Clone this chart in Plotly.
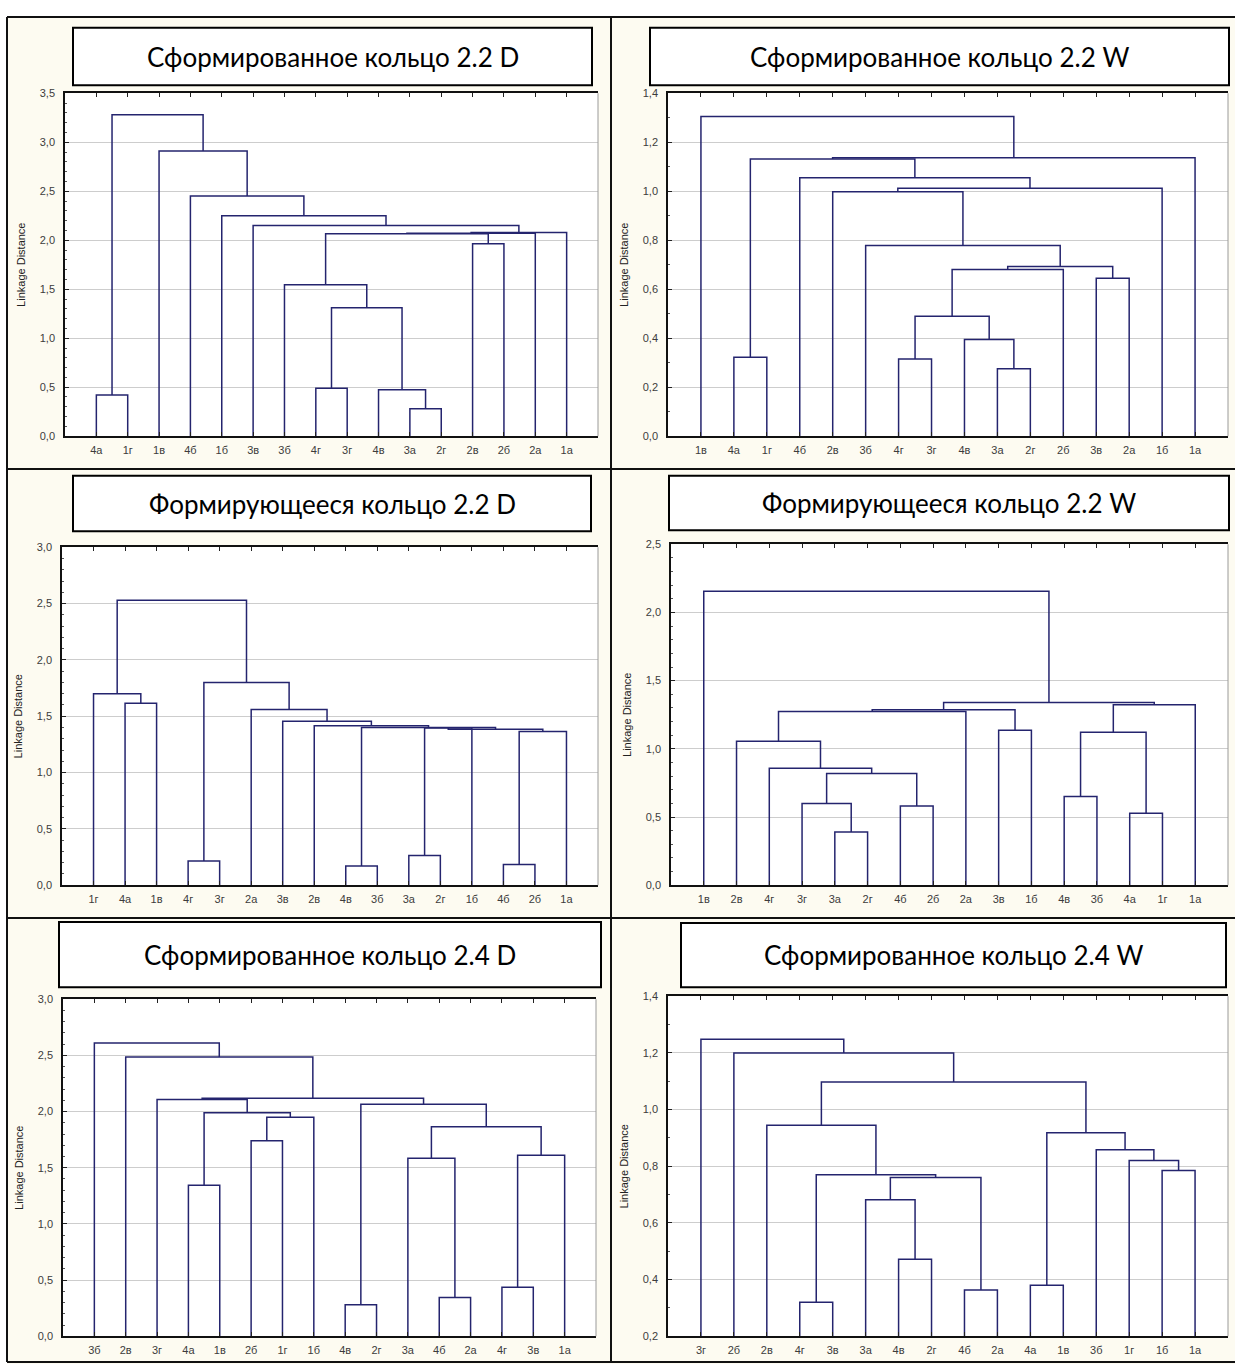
import plotly.graph_objects as go

# ---------------- data ----------------
titles = [
    "Сформированное кольцо 2.2 D",
    "Сформированное кольцо 2.2 W",
    "Формирующееся кольцо 2.2 D",
    "Формирующееся кольцо 2.2 W",
    "Сформированное кольцо 2.4 D",
    "Сформированное кольцо 2.4 W",
]

# leaf order along the x axis of each tree
leaves_1 = ["4а", "1г", "1в", "4б", "1б", "3в", "3б", "4г", "3г", "4в", "3а", "2г", "2в", "2б", "2а", "1а"]
leaves_2 = ["1в", "4а", "1г", "4б", "2в", "3б", "4г", "3г", "4в", "3а", "2г", "2б", "3в", "2а", "1б", "1а"]
leaves_3 = ["1г", "4а", "1в", "4г", "3г", "2а", "3в", "2в", "4в", "3б", "3а", "2г", "1б", "4б", "2б", "1а"]
leaves_4 = ["1в", "2в", "4г", "3г", "3а", "2г", "4б", "2б", "2а", "3в", "1б", "4в", "3б", "4а", "1г", "1а"]
leaves_5 = ["3б", "2в", "3г", "4а", "1в", "2б", "1г", "1б", "4в", "2г", "3а", "4б", "2а", "4г", "3в", "1а"]
leaves_6 = ["3г", "2б", "2в", "4г", "3в", "3а", "4в", "2г", "4б", "2а", "4а", "1в", "3б", "1г", "1б", "1а"]

# merges: (left member, right member, linkage distance);
# a member is a leaf name or the index of an earlier merge
merges_1 = [
    ("4а", "1г", 0.42), ("3а", "2г", 0.28), ("4в", 1, 0.475), ("4г", "3г", 0.49),
    (3, 2, 1.31), ("3б", 4, 1.545), ("2в", "2б", 1.965), (5, 6, 2.065),
    (7, "2а", 2.07), (8, "1а", 2.08), ("3в", 9, 2.15), ("1б", 10, 2.25),
    ("4б", 11, 2.45), ("1в", 12, 2.91), (0, 13, 3.28),
]
merges_2 = [
    ("4а", "1г", 0.322), ("3а", "2г", 0.275), ("4г", "3г", 0.315), ("4в", 1, 0.395),
    (2, 3, 0.49), (4, "2б", 0.68), ("3в", "2а", 0.645), (5, 6, 0.693),
    ("3б", 7, 0.778), ("2в", 8, 0.998), (9, "1б", 1.012), ("4б", 10, 1.055),
    (0, 11, 1.132), (12, "1а", 1.137), ("1в", 13, 1.305),
]
merges_3 = [
    ("4а", "1в", 1.615), ("1г", 0, 1.70), ("4г", "3г", 0.215), ("4в", "3б", 0.17),
    ("3а", "2г", 0.265), ("4б", "2б", 0.185), (5, "1а", 1.365), (4, "1б", 1.395),
    (7, 6, 1.385), (3, 8, 1.40), ("2в", 9, 1.415), ("3в", 10, 1.455),
    ("2а", 11, 1.56), (2, 12, 1.80), (1, 13, 2.53),
]
merges_4 = [
    ("3а", "2г", 0.39), ("3г", 0, 0.60), ("4б", "2б", 0.58), (1, 2, 0.82),
    ("4г", 3, 0.857), ("2в", 4, 1.056), ("3в", "1б", 1.136), ("4в", "3б", 0.65),
    ("4а", "1г", 0.527), (7, 8, 1.121), (9, "1а", 1.323), (5, "2а", 1.274),
    (11, 6, 1.286), (12, 10, 1.34), ("1в", 13, 2.155),
]
merges_5 = [
    ("4а", "1в", 1.345), ("2б", "1г", 1.74), (1, "1б", 1.95), (0, 2, 1.99),
    ("4в", "2г", 0.28), ("4б", "2а", 0.345), ("3а", 5, 1.585), ("4г", "3в", 0.435),
    (7, "1а", 1.61), (6, 8, 1.865), (4, 9, 2.065), ("3г", 3, 2.108),
    (11, 10, 2.118), ("2в", 12, 2.485), ("3б", 13, 2.61),
]
merges_6 = [
    ("4г", "3в", 0.32), ("4в", "2г", 0.472), ("3а", 1, 0.682), ("4б", "2а", 0.363),
    (2, 3, 0.76), (0, 4, 0.77), ("2в", 5, 0.945), ("4а", "1в", 0.38),
    ("1б", "1а", 0.785), ("1г", 8, 0.82), ("3б", 9, 0.858), (7, 10, 0.918),
    (6, 11, 1.097), ("2б", 12, 1.2), ("3г", 13, 1.248),
]

# y axis ranges and tick labels
y_ranges = [[0.0, 3.5], [0.0, 1.4], [0.0, 3.0], [0.0, 2.5], [0.0, 3.0], [0.2, 1.4]]
y_ticks_1 = [0.0, 0.5, 1.0, 1.5, 2.0, 2.5, 3.0, 3.5]
y_ticks_2 = [0.0, 0.2, 0.4, 0.6, 0.8, 1.0, 1.2, 1.4]
y_ticks_3 = [0.0, 0.5, 1.0, 1.5, 2.0, 2.5, 3.0]
y_ticks_4 = [0.0, 0.5, 1.0, 1.5, 2.0, 2.5]
y_ticks_5 = [0.0, 0.5, 1.0, 1.5, 2.0, 2.5, 3.0]
y_ticks_6 = [0.2, 0.4, 0.6, 0.8, 1.0, 1.2, 1.4]
y_title = "Linkage Distance"

panels = [
    (leaves_1, merges_1, y_ticks_1),
    (leaves_2, merges_2, y_ticks_2),
    (leaves_3, merges_3, y_ticks_3),
    (leaves_4, merges_4, y_ticks_4),
    (leaves_5, merges_5, y_ticks_5),
    (leaves_6, merges_6, y_ticks_6),
]

# ---------------- layout geometry (pixels) ----------------
W, H = 1235, 1370
# plot rectangles: left, right, top, bottom
plot_px = [
    (65, 598, 88, 434),
    (668, 1228, 88, 434),
    (62, 598, 546, 887),
    (671, 1228, 543, 887),
    (63, 596, 1002, 1342),
    (668, 1228, 999, 1342),
]
# title boxes: left, right, top, bottom
title_px = [
    (73, 592, 22, 80),
    (650, 1229, 22, 80),
    (73, 591, 474, 530),
    (669, 1229, 474, 529),
    (59, 601, 924, 990),
    (681, 1226, 925, 990),
]

LINE = "#24246e"
CREAM = "#fdfbf1"
TICK_FONT = dict(family="Liberation Sans, Arial", size=11, color="#3c3c3c")


def px(x):
    return x / W


def py(y):
    return 1 - y / H


def tree_path(leaves, merges):
    """Build the U-shaped links of a dendrogram as one polyline."""
    pos = {name: i + 1 for i, name in enumerate(leaves)}
    xs, ys = [], []
    node = []  # (x position, height) of each merge

    def get(m):
        if isinstance(m, int):
            return node[m]
        return (pos[m], 0.0)

    for a, b, h in merges:
        xa, ha = get(a)
        xb, hb = get(b)
        xs += [xa, xa, xb, xb, None]
        ys += [ha, h, h, hb, None]
        node.append(((xa + xb) / 2, h))
    return xs, ys


def fmt(v):
    return f"{v:.1f}".replace(".", ",")


fig = go.Figure()
shapes = []
annotations = []

# cream page inside the table frame
shapes.append(dict(type="rect", xref="paper", yref="paper", layer="below",
                   x0=px(7), x1=1.0, y0=0.0, y1=py(11),
                   fillcolor=CREAM, line=dict(width=0)))

for k, (leaves, merges, yt) in enumerate(panels):
    n = k + 1
    xa = "x" if n == 1 else f"x{n}"
    ya = "y" if n == 1 else f"y{n}"
    l, r, t, b = plot_px[k]

    # white plotting area
    shapes.append(dict(type="rect", xref="paper", yref="paper", layer="below",
                       x0=px(l), x1=px(r), y0=py(b), y1=py(t),
                       fillcolor="white", line=dict(width=0)))

    xs, ys = tree_path(leaves, merges)
    fig.add_trace(go.Scatter(x=xs, y=ys, mode="lines", xaxis=xa, yaxis=ya,
                             line=dict(color=LINE, width=1.5),
                             hoverinfo="skip", showlegend=False))

    ax_name = "xaxis" if n == 1 else f"xaxis{n}"
    ay_name = "yaxis" if n == 1 else f"yaxis{n}"
    fig.layout[ax_name] = dict(
        domain=[px(l), px(r)], anchor=ya, range=[0, len(leaves) + 1],
        tickmode="array", tickvals=list(range(1, len(leaves) + 1)), ticktext=leaves,
        ticks="inside", ticklen=4, tickcolor="#222", showgrid=False, zeroline=False,
        showline=True, linecolor="#111", linewidth=1.5, mirror="ticks",
        tickfont=TICK_FONT, ticklabelstandoff=3,
        fixedrange=True,
    )
    fig.layout[ay_name] = dict(
        domain=[py(b), py(t)], anchor=xa, range=y_ranges[k],
        tickmode="array", tickvals=yt, ticktext=[fmt(v) for v in yt],
        ticks="inside", ticklen=4, tickcolor="#222",
        minor=dict(ticks="inside", ticklen=2, dtick=0.1, tickcolor="#555", showgrid=False),
        showgrid=True, gridcolor="#cdcdcd", gridwidth=1, zeroline=False,
        showline=True, linecolor="#111", linewidth=1.5, mirror=False,
        tickfont=TICK_FONT, ticklabelstandoff=6,
        title=dict(text=y_title, standoff=12,
                   font=dict(family="Liberation Sans, Arial", size=11, color="#222")),
        fixedrange=True,
    )

    # light right-hand frame edge
    shapes.append(dict(type="line", xref="paper", yref="paper",
                       x0=px(r), x1=px(r), y0=py(b), y1=py(t),
                       line=dict(color="#9a9a9a", width=1)))

    # title box
    tl, tr, tt, tb = title_px[k]
    shapes.append(dict(type="rect", xref="paper", yref="paper",
                       x0=px(tl), x1=px(tr), y0=py(tb), y1=py(tt),
                       fillcolor="white", line=dict(color="black", width=2)))
    annotations.append(dict(text=titles[k], xref="paper", yref="paper",
                            x=px((tl + tr) / 2), y=py((tt + tb) / 2),
                            xanchor="center", yanchor="middle", showarrow=False,
                            font=dict(family="Lato", size=26, color="black")))

# table grid lines
for (x0, y0, x1, y1) in [
    (7, 11, 1235, 11),
    (7, 11, 7, 1368),
    (611, 11, 611, 1368),
    (7, 467, 1235, 467),
    (7, 920, 1235, 920),
    (7, 1368, 1235, 1368),
]:
    shapes.append(dict(type="line", xref="paper", yref="paper",
                       x0=px(x0), x1=px(x1), y0=py(y0), y1=py(y1),
                       line=dict(color="#111", width=2)))

fig.update_layout(
    width=W, height=H, autosize=False,
    margin=dict(l=0, r=0, t=0, b=0),
    paper_bgcolor="white", plot_bgcolor="rgba(0,0,0,0)",
    shapes=shapes, annotations=annotations,
    showlegend=False,
)

fig.write_html("out.html")
